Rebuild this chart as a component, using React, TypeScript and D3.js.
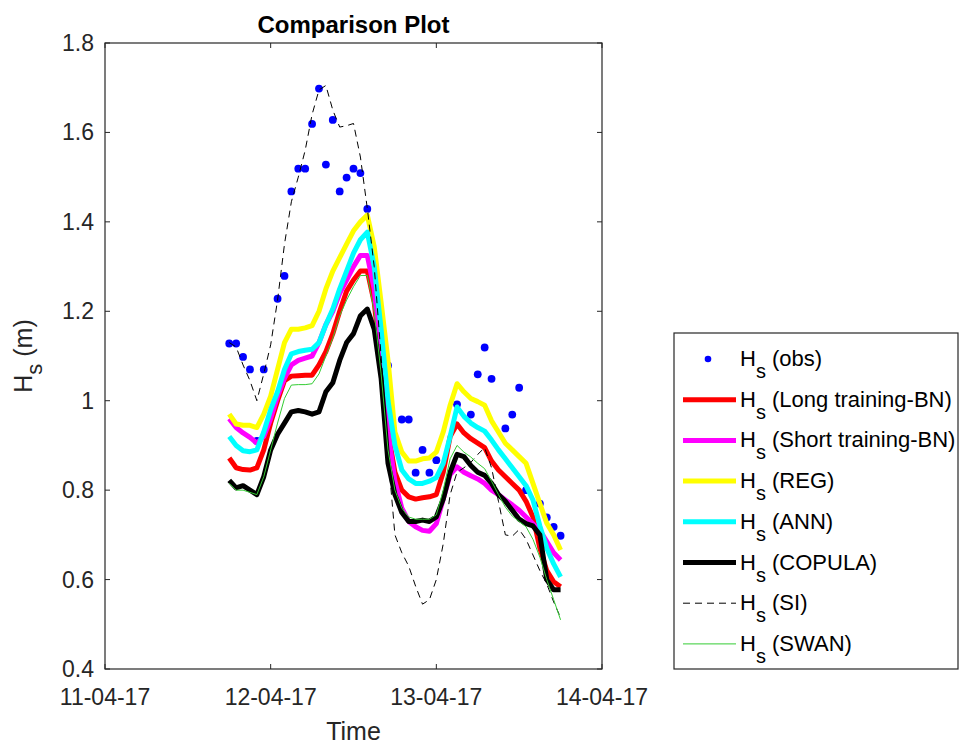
import React from 'react';
import * as d3 from 'd3';

// hours after 11-04-17 00:00 for the hourly model series
const seriesHours = d3.range(18, 67);

const longBN = [0.872,0.85,0.846,0.845,0.85,0.89,0.95,1.00,1.045,1.055,1.056,1.057,1.057,1.08,1.11,1.15,1.20,1.245,1.27,1.29,1.29,1.22,1.08,0.93,0.84,0.80,0.785,0.78,0.783,0.785,0.79,0.84,0.92,0.948,0.928,0.915,0.905,0.895,0.865,0.845,0.83,0.815,0.80,0.775,0.74,0.67,0.62,0.595,0.584];
const shortBN = [0.96,0.94,0.928,0.918,0.905,0.92,0.96,1.01,1.05,1.08,1.09,1.095,1.10,1.13,1.17,1.20,1.24,1.27,1.30,1.325,1.325,1.25,1.09,0.93,0.82,0.76,0.73,0.718,0.71,0.708,0.725,0.78,0.835,0.852,0.84,0.832,0.825,0.815,0.80,0.79,0.778,0.767,0.755,0.74,0.725,0.71,0.685,0.66,0.644];
const reg = [0.97,0.948,0.945,0.945,0.94,0.97,1.01,1.07,1.13,1.16,1.16,1.163,1.168,1.20,1.25,1.29,1.32,1.35,1.38,1.40,1.415,1.345,1.22,1.09,0.93,0.885,0.865,0.865,0.87,0.872,0.885,0.93,0.99,1.038,1.02,1.005,0.998,0.99,0.955,0.93,0.905,0.89,0.875,0.86,0.815,0.77,0.726,0.70,0.666];
const ann = [0.92,0.90,0.888,0.886,0.89,0.93,0.98,1.02,1.07,1.105,1.11,1.113,1.115,1.13,1.17,1.205,1.25,1.29,1.33,1.36,1.377,1.30,1.16,1.00,0.90,0.845,0.825,0.815,0.815,0.82,0.828,0.86,0.92,0.986,0.965,0.95,0.94,0.932,0.912,0.89,0.87,0.85,0.83,0.81,0.778,0.72,0.67,0.635,0.606];
const copula = [0.822,0.805,0.81,0.80,0.79,0.83,0.89,0.925,0.95,0.975,0.978,0.975,0.97,0.975,1.02,1.04,1.09,1.13,1.15,1.19,1.205,1.16,1.05,0.86,0.79,0.75,0.73,0.73,0.733,0.73,0.74,0.78,0.84,0.88,0.875,0.855,0.84,0.833,0.815,0.79,0.775,0.755,0.735,0.725,0.72,0.70,0.60,0.577,0.577];
const si = [1.13,1.12,1.08,1.045,1.00,1.06,1.125,1.225,1.35,1.445,1.50,1.56,1.64,1.695,1.705,1.65,1.612,1.615,1.62,1.545,1.43,1.30,1.10,0.88,0.70,0.66,0.63,0.585,0.545,0.555,0.60,0.68,0.79,0.84,0.85,0.862,0.88,0.895,0.85,0.775,0.70,0.697,0.712,0.69,0.655,0.62,0.59,0.55,0.515];
const swan = [0.815,0.80,0.80,0.795,0.79,0.83,0.89,0.95,1.005,1.035,1.036,1.036,1.038,1.06,1.10,1.14,1.19,1.225,1.255,1.28,1.28,1.20,1.06,0.89,0.80,0.76,0.74,0.735,0.735,0.735,0.745,0.80,0.87,0.90,0.885,0.874,0.86,0.848,0.82,0.79,0.762,0.742,0.73,0.718,0.69,0.65,0.60,0.555,0.51];

const obsHours = [18,19,20,21,22,23,25,26,27,28,29,30,31,32,33,34,35,36,37,38,39,41,43,44,45,46,47,48,51,53,54,55,56,58,59,60,61,63,64,65,66];
const obsValues = [1.128,1.128,1.098,1.07,0.91,1.07,1.228,1.279,1.468,1.519,1.519,1.619,1.698,1.528,1.628,1.468,1.499,1.519,1.509,1.429,1.26,1.079,0.958,0.958,0.839,0.89,0.839,0.867,0.992,0.969,1.059,1.119,1.049,0.938,0.969,1.029,0.80,0.77,0.739,0.718,0.698];

const yTicks = [0.4, 0.6, 0.8, 1, 1.2, 1.4, 1.6, 1.8];
const xTickDays = [11, 12, 13, 14];

const legendLabels = ['(obs)', '(Long training-BN)', '(Short training-BN)', '(REG)', '(ANN)', '(COPULA)', '(SI)', '(SWAN)'];

const FONT = '"Liberation Sans", Arial, Helvetica, sans-serif';
const AX = '#262626';

const hourToDate = (h: number) => new Date(Date.UTC(2017, 3, 11) + h * 3600000);

export default function App() {
  const W = 960, H = 745;
  const left = 105, right = 602, top = 43, bottom = 669;
  const x = d3.scaleUtc().domain([new Date(Date.UTC(2017, 3, 11)), new Date(Date.UTC(2017, 3, 14))]).range([left, right]);
  const y = d3.scaleLinear().domain([0.4, 1.8]).range([bottom, top]);
  const fmt = d3.utcFormat('%d-%m-%y');

  const line = d3.line<number>()
    .x((_, i) => x(hourToDate(seriesHours[i])))
    .y((d) => y(d));

  const series = [
    { data: longBN, color: '#ff0000', width: 5, dash: undefined as string | undefined },
    { data: shortBN, color: '#ff00ff', width: 5, dash: undefined },
    { data: reg, color: '#ffff00', width: 5, dash: undefined },
    { data: ann, color: '#00ffff', width: 5, dash: undefined },
    { data: copula, color: '#000000', width: 5, dash: undefined },
    { data: si, color: '#000000', width: 1, dash: '7,5' },
    { data: swan, color: '#33cc33', width: 1, dash: undefined },
  ];

  const xTicks = xTickDays.map((d) => new Date(Date.UTC(2017, 3, d)));

  const legX = 674, legY = 333, legW = 284, legH = 336;
  const rowY = (i: number) => 359 + i * 40.7;

  return (
    <svg width={W} height={H} style={{ position: 'absolute', left: 0, top: 0, background: '#fff' }} fontFamily={FONT}>
      <rect x={0} y={0} width={W} height={H} fill="#fff" />
      {obsHours.map((h, i) => (
        <circle key={'o' + i} cx={x(hourToDate(h))} cy={y(obsValues[i])} r={3.9} fill="#0000ff" />
      ))}
      {series.map((s, i) => (
        <path key={'s' + i} d={line(s.data) || ''} fill="none" stroke={s.color} strokeWidth={s.width}
          strokeDasharray={s.dash} strokeLinejoin="round" strokeLinecap="butt" />
      ))}
      <rect x={left} y={top} width={right - left} height={bottom - top} fill="none" stroke={AX} strokeWidth={1.2} />
      {yTicks.map((t) => (
        <g key={'y' + t}>
          <line x1={left} x2={left + 5} y1={y(t)} y2={y(t)} stroke={AX} strokeWidth={1} />
          <line x1={right} x2={right - 5} y1={y(t)} y2={y(t)} stroke={AX} strokeWidth={1} />
          <text x={left - 11} y={y(t) + 8} textAnchor="end" fontSize={23} fill={AX}>{String(t)}</text>
        </g>
      ))}
      {xTicks.map((t, i) => (
        <g key={'x' + i}>
          <line x1={x(t)} x2={x(t)} y1={bottom} y2={bottom - 5} stroke={AX} strokeWidth={1} />
          <line x1={x(t)} x2={x(t)} y1={top} y2={top + 5} stroke={AX} strokeWidth={1} />
          <text x={x(t)} y={705} textAnchor="middle" fontSize={23} fill={AX}>{fmt(t)}</text>
        </g>
      ))}
      <text x={(left + right) / 2} y={33} textAnchor="middle" fontSize={24} fontWeight="bold" fill="#000">Comparison Plot</text>
      <text x={(left + right) / 2} y={740} textAnchor="middle" fontSize={25} fill={AX}>Time</text>
      <text transform={`translate(32, ${(top + bottom) / 2}) rotate(-90)`} textAnchor="middle" fontSize={25} fill={AX}>
        H<tspan dy={10} fontSize={22}>s</tspan><tspan dy={-10}> (m)</tspan>
      </text>
      <rect x={legX} y={legY} width={legW} height={legH} fill="#fff" stroke={AX} strokeWidth={1.2} />
      {legendLabels.map((lab, i) => {
        const cy = rowY(i);
        let sample: React.ReactNode;
        if (i === 0) {
          sample = <circle cx={708} cy={cy} r={3.3} fill="#0000ff" />;
        } else {
          const s = series[i - 1];
          sample = <line x1={683} x2={736} y1={cy} y2={cy} stroke={s.color} strokeWidth={s.width} strokeDasharray={s.dash} />;
        }
        return (
          <g key={'l' + i}>
            {sample}
            <text x={740} y={cy + 7} fontSize={22} fill="#000">
              H<tspan dy={12} fontSize={20}>s</tspan><tspan dy={-12} fontSize={22}> {lab}</tspan>
            </text>
          </g>
        );
      })}
    </svg>
  );
}
